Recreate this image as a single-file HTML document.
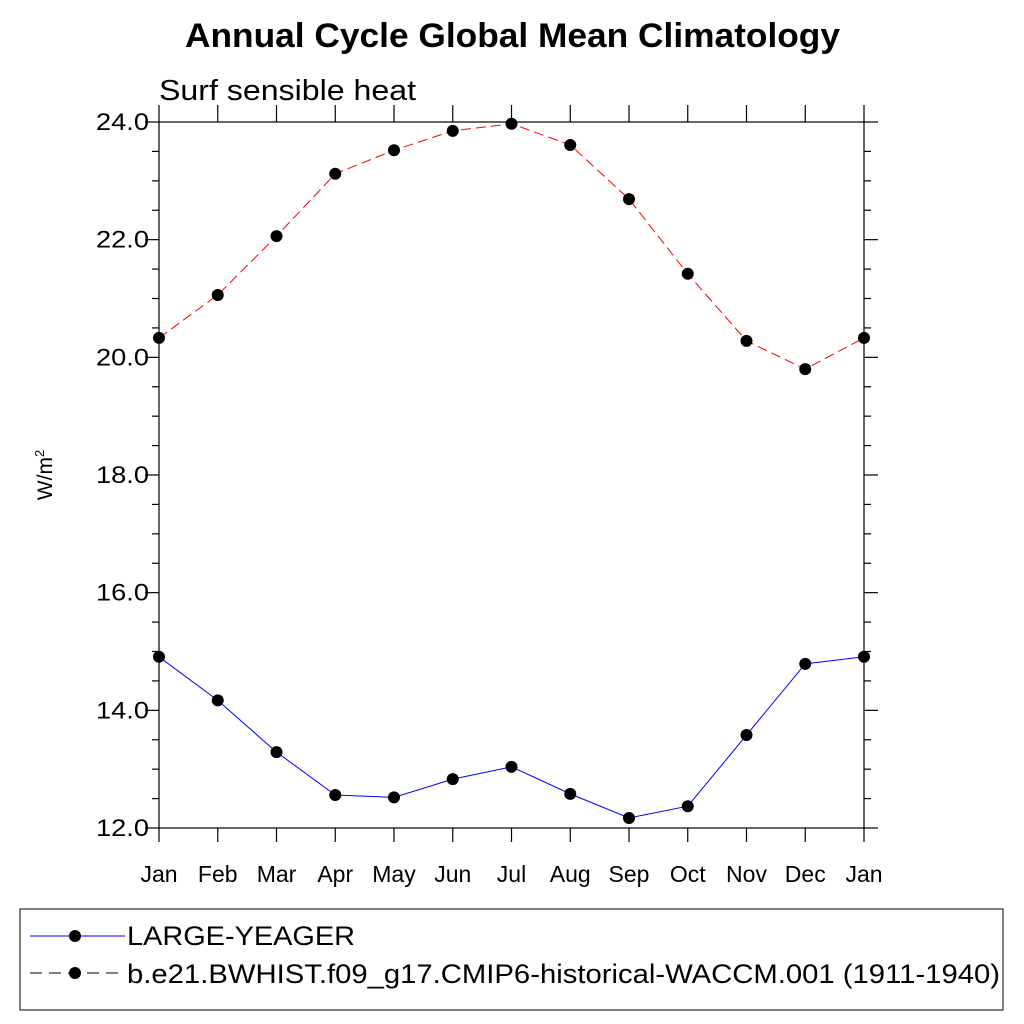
<!DOCTYPE html>
<html><head><meta charset="utf-8"><style>
body{margin:0;background:#fff;}
svg{display:block;font-family:"Liberation Sans",Arial,sans-serif;}
</style></head><body>
<svg id="chart" width="1024" height="1024" viewBox="0 0 1024 1024">
<text x="185" y="47" textLength="655" lengthAdjust="spacingAndGlyphs" font-size="34" font-weight="bold">Annual Cycle Global Mean Climatology</text>
<text x="159" y="100" textLength="257" lengthAdjust="spacingAndGlyphs" font-size="29">Surf sensible heat</text>
<text transform="translate(52,475) rotate(-90)" text-anchor="middle" font-size="21">W/m<tspan dy="-8" font-size="13">2</tspan></text>
<g id="axes"></g>
<g id="series"></g>
<rect x="20" y="909" width="983" height="101" fill="none" stroke="#000" stroke-width="1"/>
<g>
<line x1="30" y1="936" x2="125" y2="936" stroke="#0000ff" stroke-width="1"/>
<circle cx="75" cy="936" r="6" fill="#000"/>
<text x="127" y="945" textLength="228" lengthAdjust="spacingAndGlyphs" font-size="27">LARGE-YEAGER</text>
</g>
<g>
<line x1="30" y1="973" x2="125" y2="973" stroke="#000" stroke-width="1" stroke-dasharray="12,7"/>
<circle cx="75" cy="973" r="6" fill="#000"/>
<text x="127" y="983" textLength="873" lengthAdjust="spacingAndGlyphs" font-size="27">b.e21.BWHIST.f09_g17.CMIP6-historical-WACCM.001 (1911-1940)</text>
</g>
</svg>
<script>
const months=["Jan","Feb","Mar","Apr","May","Jun","Jul","Aug","Sep","Oct","Nov","Dec","Jan"];
const largeYeager=[14.91,14.17,13.29,12.56,12.52,12.83,13.04,12.58,12.17,12.37,13.58,14.79,14.91];
const waccm=[20.33,21.06,22.06,23.12,23.52,23.85,23.97,23.61,22.69,21.42,20.28,19.80,20.33];
const yTicks=[12,14,16,18,20,22,24];
const yTickLabels=["12.0","14.0","16.0","18.0","20.0","22.0","24.0"];

const X0=159,X1=864,Y0=828,Y1=122,YMIN=12,YMAX=24;
const xs=i=>X0+(X1-X0)*i/(months.length-1);
const ys=v=>Y0-(v-YMIN)/(YMAX-YMIN)*(Y0-Y1);
const NS="http://www.w3.org/2000/svg";
function mk(t,a,p){const e=document.createElementNS(NS,t);for(const k in a)e.setAttribute(k,a[k]);p.appendChild(e);return e;}
const ax=document.getElementById('axes');
const frame=mk('rect',{x:X0,y:Y1,width:X1-X0,height:Y0-Y1,fill:'none',stroke:'#000','stroke-width':1.2},ax);


for(let v=YMIN;v<=YMAX+1e-9;v+=0.5){
  const y=ys(v);const major=Math.abs(v-Math.round(v/2)*2)<1e-6;const L=major?14:7;
  mk('line',{x1:X0-L,y1:y,x2:X0,y2:y,stroke:'#000','stroke-width':1.2},ax);
  mk('line',{x1:X1,y1:y,x2:X1+L,y2:y,stroke:'#000','stroke-width':1.2},ax);
}
yTicks.forEach((v,i)=>{
  const t=mk('text',{x:X0-10,y:ys(v)+8,'text-anchor':'end','font-size':24,textLength:53,lengthAdjust:'spacingAndGlyphs'},ax);
  t.textContent=yTickLabels[i];
  
  
});
months.forEach((m,i)=>{
  const x=xs(i);
  mk('line',{x1:x,y1:Y0,x2:x,y2:Y0+14,stroke:'#000','stroke-width':1.2},ax);
  mk('line',{x1:x,y1:Y1-17,x2:x,y2:Y1,stroke:'#000','stroke-width':1.2},ax);
  const t=mk('text',{x:x,y:882,'text-anchor':'middle','font-size':23},ax);
  t.textContent=m;
  
  
});
const sg=document.getElementById('series');
function drawSeries(vals,color,dash,name){
  const g=mk('g',{},sg);
  
  
  const pts=vals.map((v,i)=>xs(i)+','+ys(v)).join(' ');
  const a={points:pts,fill:'none',stroke:color,'stroke-width':1};
  if(dash)a['stroke-dasharray']=dash;
  mk('polyline',a,g);
  vals.forEach((v,i)=>{
    const c=mk('circle',{cx:xs(i),cy:ys(v),r:6,fill:'#000'},g);
    
    
  });
}
drawSeries(waccm,'#ff0000','10,5','series-waccm');
drawSeries(largeYeager,'#0000ff',null,'series-large-yeager');
</script>
</body></html>
